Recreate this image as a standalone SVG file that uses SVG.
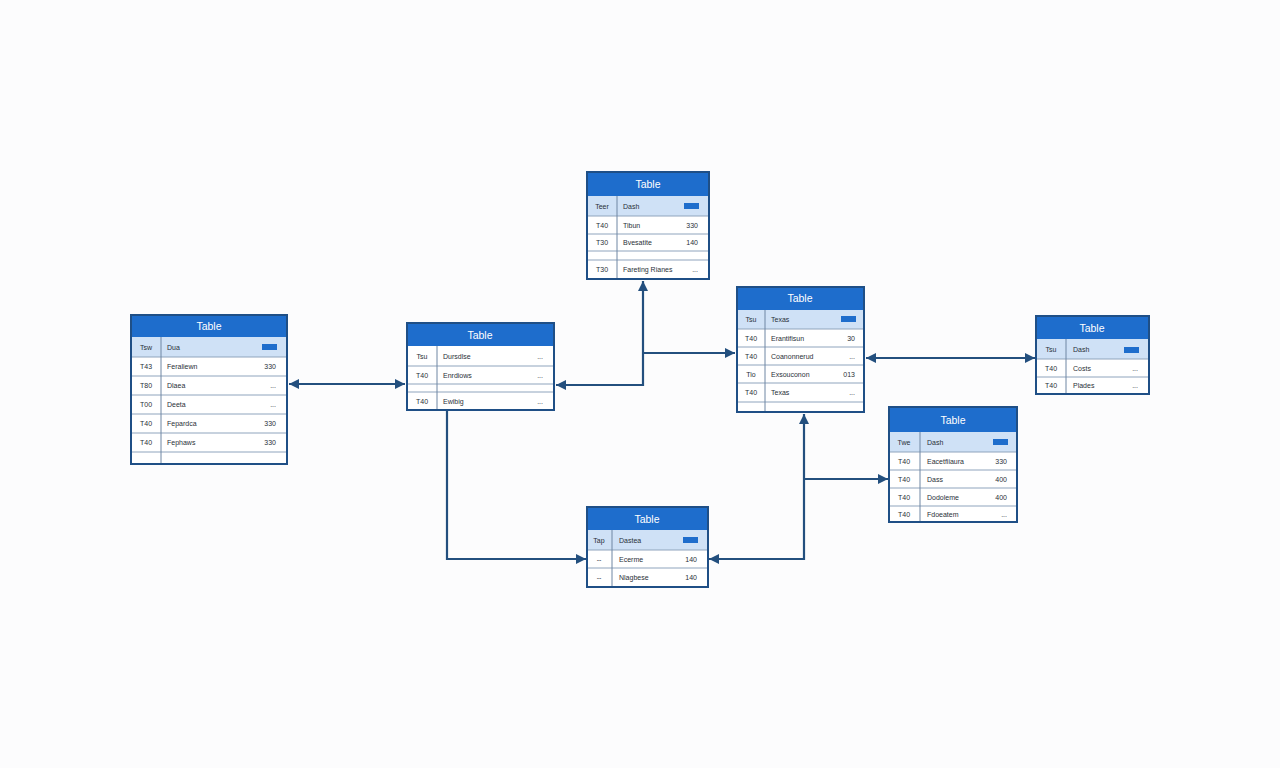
<svg xmlns="http://www.w3.org/2000/svg" width="1280" height="768" viewBox="0 0 1280 768">
<defs>
<style>
.frame{fill:#ffffff;stroke:#1f4f86;stroke-width:2}
.hdr{fill:#1e6dcc}
.hl{fill:#cfe1f6}
.ln{stroke:#8fa4bd;stroke-width:1}
.dv{stroke:#6f86a3;stroke-width:1}
.bar{fill:#1e6dcc}
.title{font-family:"Liberation Sans",Arial,sans-serif;font-size:10.5px;fill:#ffffff;text-anchor:middle}
.c1{font-family:"Liberation Sans",Arial,sans-serif;font-size:7px;fill:#2a3038;text-anchor:middle}
.c2{font-family:"Liberation Sans",Arial,sans-serif;font-size:7px;fill:#2a3038}
.c3{font-family:"Liberation Sans",Arial,sans-serif;font-size:7px;fill:#2a3038;text-anchor:end}
.con{fill:none;stroke:#234f7e;stroke-width:2.2}
</style>
<marker id="ah" viewBox="0 0 10 10" refX="10" refY="5" markerWidth="11" markerHeight="10" markerUnits="userSpaceOnUse" orient="auto-start-reverse">
<path d="M0,0 L10,5 L0,10 z" fill="#234f7e"/>
</marker>
</defs>
<rect width="1280" height="768" fill="#fcfcfd"/>

<g id="connectors">
<path class="con" d="M289 384 H405" marker-start="url(#ah)" marker-end="url(#ah)"/>
<path class="con" d="M643 281 V385 H556" marker-start="url(#ah)" marker-end="url(#ah)"/>
<path class="con" d="M643 353 H735" marker-end="url(#ah)"/>
<path class="con" d="M447 411 V559 H586" marker-end="url(#ah)"/>
<path class="con" d="M804 414 V559 H709" marker-start="url(#ah)" marker-end="url(#ah)"/>
<path class="con" d="M804 479 H888" marker-end="url(#ah)"/>
<path class="con" d="M866 358 H1035" marker-start="url(#ah)" marker-end="url(#ah)"/>
</g>

<g id="table1">
<rect class="frame" x="131" y="315" width="156" height="149"/>
<rect class="hdr" x="131" y="315" width="156" height="22"/>
<rect class="hl" x="132" y="337" width="154" height="20"/>
<line class="ln" x1="132" y1="357" x2="286" y2="357"/>
<line class="ln" x1="132" y1="376" x2="286" y2="376"/>
<line class="ln" x1="132" y1="395" x2="286" y2="395"/>
<line class="ln" x1="132" y1="414" x2="286" y2="414"/>
<line class="ln" x1="132" y1="433" x2="286" y2="433"/>
<line class="ln" x1="132" y1="452" x2="286" y2="452"/>
<line class="dv" x1="161" y1="337" x2="161" y2="464"/>
<rect class="frame" x="131" y="315" width="156" height="149" style="fill:none"/>
<text class="title" x="209" y="330">Table</text>
<text class="c1" x="146" y="350">Tsw</text><text class="c2" x="167" y="350">Dua</text><rect class="bar" x="262" y="344" width="15" height="6"/>
<text class="c1" x="146" y="369">T43</text><text class="c2" x="167" y="369">Feraliewn</text><text class="c3" x="276" y="369">330</text>
<text class="c1" x="146" y="388">T80</text><text class="c2" x="167" y="388">Dlaea</text><text class="c3" x="276" y="388">...</text>
<text class="c1" x="146" y="407">T00</text><text class="c2" x="167" y="407">Deeta</text><text class="c3" x="276" y="407">...</text>
<text class="c1" x="146" y="426">T40</text><text class="c2" x="167" y="426">Fepardca</text><text class="c3" x="276" y="426">330</text>
<text class="c1" x="146" y="445">T40</text><text class="c2" x="167" y="445">Fephaws</text><text class="c3" x="276" y="445">330</text>
</g>

<g id="table2">
<rect class="frame" x="407" y="323" width="147" height="87"/>
<rect class="hdr" x="407" y="323" width="147" height="23"/>
<line class="ln" x1="408" y1="366" x2="553" y2="366"/>
<line class="ln" x1="408" y1="384" x2="553" y2="384"/>
<line class="ln" x1="408" y1="392" x2="553" y2="392"/>
<line class="dv" x1="437" y1="346" x2="437" y2="410"/>
<rect class="frame" x="407" y="323" width="147" height="87" style="fill:none"/>
<text class="title" x="480" y="339">Table</text>
<text class="c1" x="422" y="359">Tsu</text><text class="c2" x="443" y="359">Dursdlse</text><text class="c3" x="543" y="359">...</text>
<text class="c1" x="422" y="378">T40</text><text class="c2" x="443" y="378">Enrdiows</text><text class="c3" x="543" y="378">...</text>
<text class="c1" x="422" y="404">T40</text><text class="c2" x="443" y="404">Ewibig</text><text class="c3" x="543" y="404">...</text>
</g>

<g id="table3">
<rect class="frame" x="587" y="172" width="122" height="107"/>
<rect class="hdr" x="587" y="172" width="122" height="24"/>
<rect class="hl" x="588" y="196" width="120" height="20"/>
<line class="ln" x1="588" y1="216" x2="708" y2="216"/>
<line class="ln" x1="588" y1="234" x2="708" y2="234"/>
<line class="ln" x1="588" y1="251" x2="708" y2="251"/>
<line class="ln" x1="588" y1="260" x2="708" y2="260"/>
<line class="dv" x1="617" y1="196" x2="617" y2="279"/>
<rect class="frame" x="587" y="172" width="122" height="107" style="fill:none"/>
<text class="title" x="648" y="188">Table</text>
<text class="c1" x="602" y="209">Teer</text><text class="c2" x="623" y="209">Dash</text><rect class="bar" x="684" y="203" width="15" height="6"/>
<text class="c1" x="602" y="228">T40</text><text class="c2" x="623" y="228">Tibun</text><text class="c3" x="698" y="228">330</text>
<text class="c1" x="602" y="245">T30</text><text class="c2" x="623" y="245">Bvesatite</text><text class="c3" x="698" y="245">140</text>
<text class="c1" x="602" y="272">T30</text><text class="c2" x="623" y="272">Fareting Rianes</text><text class="c3" x="698" y="272">...</text>
</g>

<g id="table4">
<rect class="frame" x="737" y="287" width="127" height="125"/>
<rect class="hdr" x="737" y="287" width="127" height="23"/>
<rect class="hl" x="738" y="310" width="125" height="19"/>
<line class="ln" x1="738" y1="329" x2="863" y2="329"/>
<line class="ln" x1="738" y1="347" x2="863" y2="347"/>
<line class="ln" x1="738" y1="365" x2="863" y2="365"/>
<line class="ln" x1="738" y1="383" x2="863" y2="383"/>
<line class="ln" x1="738" y1="402" x2="863" y2="402"/>
<line class="dv" x1="765" y1="310" x2="765" y2="412"/>
<rect class="frame" x="737" y="287" width="127" height="125" style="fill:none"/>
<text class="title" x="800" y="302">Table</text>
<text class="c1" x="751" y="322">Tsu</text><text class="c2" x="771" y="322">Texas</text><rect class="bar" x="841" y="316" width="15" height="6"/>
<text class="c1" x="751" y="341">T40</text><text class="c2" x="771" y="341">Erantifisun</text><text class="c3" x="855" y="341">30</text>
<text class="c1" x="751" y="359">T40</text><text class="c2" x="771" y="359">Coanonnerud</text><text class="c3" x="855" y="359">...</text>
<text class="c1" x="751" y="377">Tio</text><text class="c2" x="771" y="377">Exsouconon</text><text class="c3" x="855" y="377">013</text>
<text class="c1" x="751" y="395">T40</text><text class="c2" x="771" y="395">Texas</text><text class="c3" x="855" y="395">...</text>
</g>

<g id="table5">
<rect class="frame" x="1036" y="316" width="113" height="78"/>
<rect class="hdr" x="1036" y="316" width="113" height="23"/>
<rect class="hl" x="1037" y="339" width="111" height="20"/>
<line class="ln" x1="1037" y1="359" x2="1148" y2="359"/>
<line class="ln" x1="1037" y1="377" x2="1148" y2="377"/>
<line class="dv" x1="1066" y1="339" x2="1066" y2="394"/>
<rect class="frame" x="1036" y="316" width="113" height="78" style="fill:none"/>
<text class="title" x="1092" y="332">Table</text>
<text class="c1" x="1051" y="352">Tsu</text><text class="c2" x="1073" y="352">Dash</text><rect class="bar" x="1124" y="347" width="15" height="6"/>
<text class="c1" x="1051" y="371">T40</text><text class="c2" x="1073" y="371">Costs</text><text class="c3" x="1138" y="371">...</text>
<text class="c1" x="1051" y="388">T40</text><text class="c2" x="1073" y="388">Plades</text><text class="c3" x="1138" y="388">...</text>
</g>

<g id="table6">
<rect class="frame" x="889" y="407" width="128" height="115"/>
<rect class="hdr" x="889" y="407" width="128" height="25"/>
<rect class="hl" x="890" y="432" width="126" height="20"/>
<line class="ln" x1="890" y1="452" x2="1016" y2="452"/>
<line class="ln" x1="890" y1="470" x2="1016" y2="470"/>
<line class="ln" x1="890" y1="488" x2="1016" y2="488"/>
<line class="ln" x1="890" y1="506" x2="1016" y2="506"/>
<line class="dv" x1="920" y1="432" x2="920" y2="522"/>
<rect class="frame" x="889" y="407" width="128" height="115" style="fill:none"/>
<text class="title" x="953" y="424">Table</text>
<text class="c1" x="904" y="445">Twe</text><text class="c2" x="927" y="445">Dash</text><rect class="bar" x="993" y="439" width="15" height="6"/>
<text class="c1" x="904" y="464">T40</text><text class="c2" x="927" y="464">Eacetfiiaura</text><text class="c3" x="1007" y="464">330</text>
<text class="c1" x="904" y="482">T40</text><text class="c2" x="927" y="482">Dass</text><text class="c3" x="1007" y="482">400</text>
<text class="c1" x="904" y="500">T40</text><text class="c2" x="927" y="500">Dodoleme</text><text class="c3" x="1007" y="500">400</text>
<text class="c1" x="904" y="517">T40</text><text class="c2" x="927" y="517">Fdoeatem</text><text class="c3" x="1007" y="517">...</text>
</g>

<g id="table7">
<rect class="frame" x="587" y="507" width="121" height="80"/>
<rect class="hdr" x="587" y="507" width="121" height="23"/>
<rect class="hl" x="588" y="530" width="119" height="20"/>
<line class="ln" x1="588" y1="550" x2="707" y2="550"/>
<line class="ln" x1="588" y1="568" x2="707" y2="568"/>
<line class="dv" x1="612" y1="530" x2="612" y2="587"/>
<rect class="frame" x="587" y="507" width="121" height="80" style="fill:none"/>
<text class="title" x="647" y="523">Table</text>
<text class="c1" x="599" y="543">Tap</text><text class="c2" x="619" y="543">Dastea</text><rect class="bar" x="683" y="537" width="15" height="6"/>
<text class="c1" x="599" y="562">--</text><text class="c2" x="619" y="562">Ecerme</text><text class="c3" x="697" y="562">140</text>
<text class="c1" x="599" y="580">--</text><text class="c2" x="619" y="580">Nlagbese</text><text class="c3" x="697" y="580">140</text>
</g>
</svg>
